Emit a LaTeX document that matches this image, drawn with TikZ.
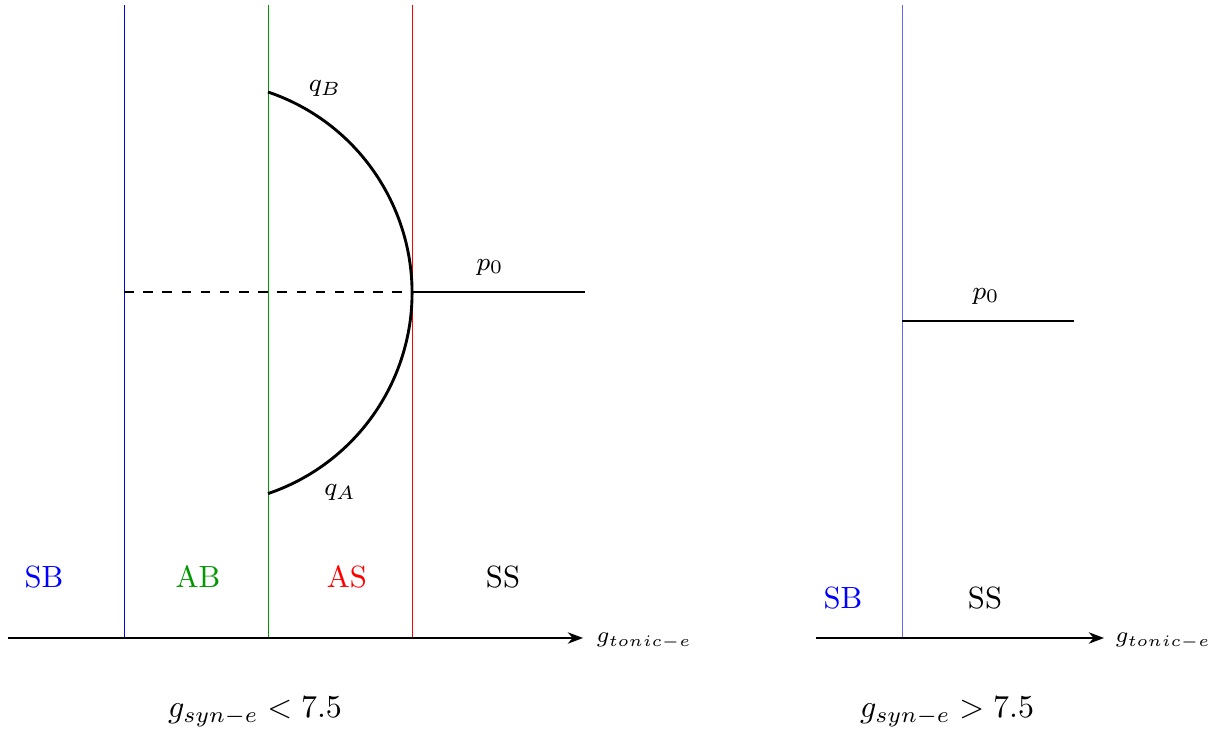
\documentclass[tikz,border=0pt]{standalone}
\usepackage{amsmath,amssymb}
\usetikzlibrary{arrows.meta}

\begin{document}
\begin{tikzpicture}[
  x=0.011cm, y=-0.011cm,
  axis/.style={-{Stealth}, line width=0.4pt},
  bound/.style={line width=0.3pt},
  branch/.style={line width=0.9pt},
  lbl/.style={font=\fontsize{9.6}{11}\selectfont},
  mlbl/.style={font=\fontsize{8.5}{10}\selectfont},
  albl/.style={font=\fontsize{7.5}{9}\selectfont, anchor=west}
]
\useasboundingbox (0,0) rectangle (1215,731);
% left panel: g_syn-e < 7.5
\coordinate (axL0) at (8,638);
\coordinate (axL1) at (583,638);
\coordinate (blueT) at (124,5);
\coordinate (blueB) at (124,638);
\coordinate (greenT) at (268,5);
\coordinate (greenB) at (268,638);
\coordinate (redT) at (412,5);
\coordinate (redB) at (412,638);
\coordinate (qBpt) at (268,92);
\coordinate (dashL) at (124,292);
\coordinate (p0L) at (412,292);
\coordinate (p0Lend) at (585,292);

\draw[bound, blue] (blueT) -- (blueB);
\draw[bound, green!60!black] (greenT) -- (greenB);
\draw[bound, red] (redT) -- (redB);
\draw[axis] (axL0) -- (axL1);
\node[albl] (gtL) at (585,641) {$g_{tonic-e}$};

\draw[dashed, thin] (dashL) -- (p0L);
\draw[branch] (qBpt) arc[start angle=-71.3, end angle=71.3, radius=212];
\draw[branch] (p0L) -- (p0Lend);
\node[mlbl] (pL) at (490,267) {$p_0$};
\node[mlbl] (qB) at (325,88) {$q_B$};
\node[mlbl] (qA) at (340,492) {$q_A$};

\node[lbl, text=blue] (SBL) at (44,577) {SB};
\node[lbl, text=green!60!black] (ABL) at (198,577) {AB};
\node[lbl, text=red] (ASL) at (347,577) {AS};
\node[lbl] (SSL) at (503,577) {SS};
\node[lbl] (condL) at (255,712) {$g_{syn-e} < 7.5$};

% right panel: g_syn-e > 7.5
\coordinate (axR0) at (816,638);
\coordinate (axR1) at (1104,638);
\coordinate (blueRT) at (902,5);
\coordinate (blueRB) at (902,638);
\coordinate (p0R) at (902,321);
\coordinate (p0Rend) at (1074,321);

\draw[bound, blue!60] (blueRT) -- (blueRB);
\draw[axis] (axR0) -- (axR1);
\node[albl] (gtR) at (1104,641) {$g_{tonic-e}$};
\draw[branch] (p0R) -- (p0Rend);
\node[mlbl] (pR) at (986,296) {$p_0$};

\node[lbl, text=blue] (SBR) at (843,598) {SB};
\node[lbl] (SSR) at (985,598) {SS};
\node[lbl] (condR) at (947,712) {$g_{syn-e} > 7.5$};
\end{tikzpicture}
\end{document}
